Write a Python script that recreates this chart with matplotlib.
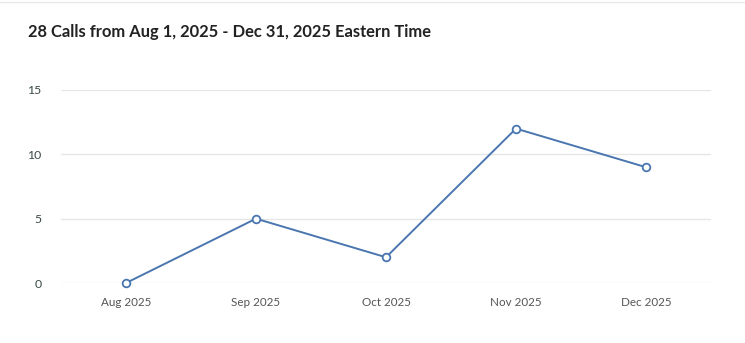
import numpy as np
import matplotlib.pyplot as plt

# data
months = ['Aug 2025', 'Sep 2025', 'Oct 2025', 'Nov 2025', 'Dec 2025']
calls = [0, 5, 2, 12, 9]
y_ticks = [0, 5, 10, 15]

plt.rcParams['font.family'] = ['Lato', 'DejaVu Sans']

fig = plt.figure(figsize=(7.45, 3.43), dpi=100)
ax = fig.add_axes([61 / 745, 60 / 343, 650 / 745, 193 / 343])

x = np.arange(len(months))
ax.plot(x, calls, color='#4a76b0', linewidth=1.4, marker='o', markersize=5.5,
        markerfacecolor='white', markeredgecolor='#4a76b0', markeredgewidth=1.3,
        zorder=3, clip_on=False)

ax.set_xlim(-0.5, len(months) - 0.5)
ax.set_ylim(0, 15)
ax.set_xticks(x)
ax.set_xticklabels(months, color='#555555', fontsize=8.4)
ax.set_yticks(y_ticks)
ax.set_yticklabels([str(t) for t in y_ticks], color='#3a4a44', fontsize=8.8)
ax.tick_params(length=0)
ax.tick_params(axis='x', pad=10)
ax.tick_params(axis='y', pad=14)
ax.grid(axis='y', color='#e6e6e6', linewidth=1)
ax.set_axisbelow(True)
for s in ax.spines.values():
    s.set_visible(False)

# card border at top
fig.add_artist(plt.Line2D([0, 1], [1 - 2 / 343, 1 - 2 / 343], color='#e8e8e8', linewidth=1))

fig.text(28 / 745, 1 - 32 / 343, '28 Calls from Aug 1, 2025 - Dec 31, 2025 Eastern Time',
         fontsize=11.9, fontweight='bold', color='#222222', va='center', ha='left')

fig.savefig('out.png', dpi=100)
